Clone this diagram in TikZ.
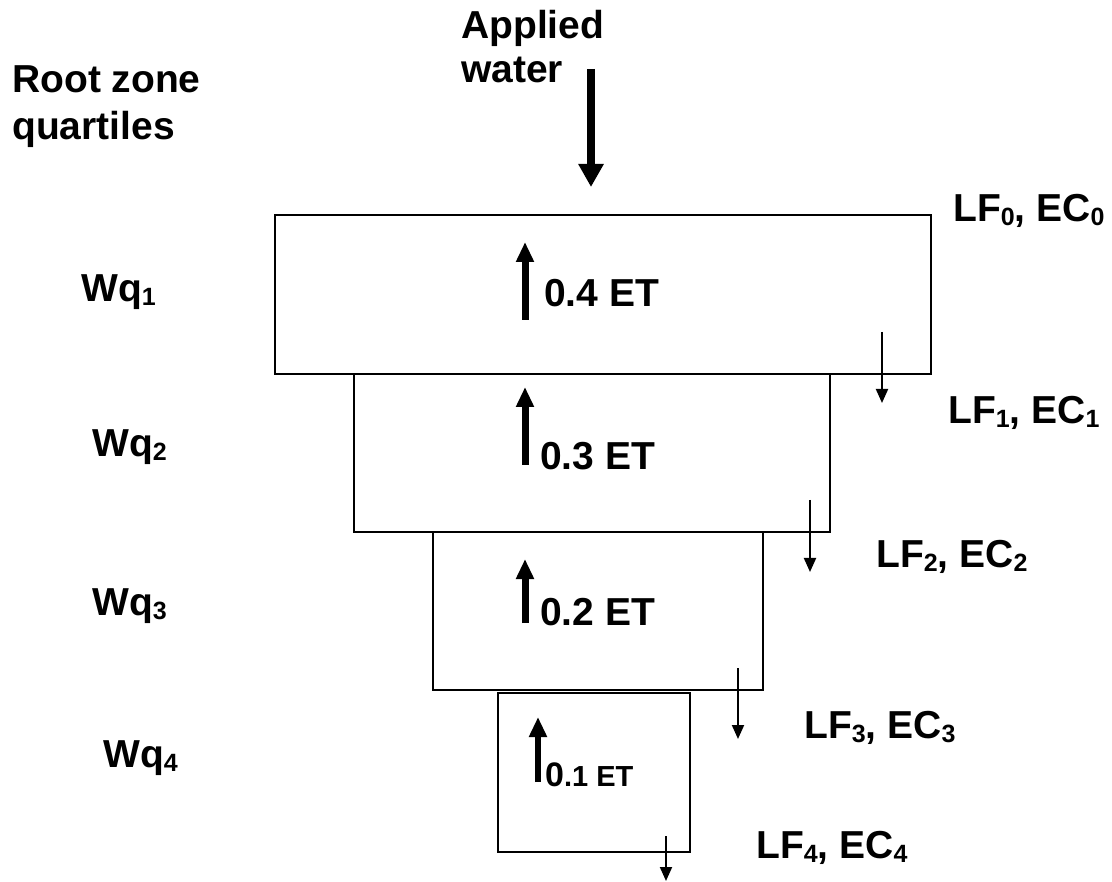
\documentclass[tikz,border=0pt]{standalone}
\usepackage{fontspec}
\setmainfont{Liberation Sans}
\usetikzlibrary{arrows.meta}
\newcommand\sbs[1]{\raisebox{-4pt}{\fontsize{25}{25}\selectfont #1}}
\begin{document}
\begin{tikzpicture}[x=1pt,y=-1pt,
  lbl/.style={anchor=base west, inner sep=0pt, font=\bfseries\fontsize{39}{45}\selectfont},
  layer/.style={draw, line width=2pt, inner sep=0pt, anchor=north west},
  bigarrow/.style={line width=8pt, -{Triangle[width=24pt,length=23pt]}},
  etarrow/.style={line width=7pt, -{Triangle[width=17pt,length=20pt]}},
  drip/.style={line width=2pt, -{Triangle[width=12pt,length=14pt]}},
]
\useasboundingbox (0,0) rectangle (1112,882);

% titles
\node[lbl] (appl1) at (461,39) {Applied};
\node[lbl] (appl2) at (461,83) {water};
\node[lbl] (root1) at (12,93) {Root zone};
\node[lbl] (root2) at (12,140) {quartiles};

% applied water arrow
\coordinate (aw1) at (591,69);
\coordinate (aw2) at (591,187);
\draw[bigarrow] (aw1) -- (aw2);

% layers
\node[layer, minimum width=656pt, minimum height=159pt] (q1) at (274,214) {};
\node[layer, minimum width=476pt, minimum height=158pt] (q2) at (353,373) {};
\node[layer, minimum width=330pt, minimum height=158pt] (q3) at (432,531) {};
\node[layer, minimum width=192pt, minimum height=159pt] (q4) at (497,692) {};

% quartile labels
\node[lbl] (wq1) at (81,302) {Wq\sbs{1}};
\node[lbl] (wq2) at (92,457) {Wq\sbs{2}};
\node[lbl] (wq3) at (92,615) {Wq\sbs{3}};
\node[lbl] (wq4) at (103,767) {Wq\sbs{4}};

% ET arrows and labels
\coordinate (e1a) at (525,320); \coordinate (e1b) at (525,242);
\coordinate (e2a) at (525,465); \coordinate (e2b) at (525,387);
\coordinate (e3a) at (525,623); \coordinate (e3b) at (525,559);
\coordinate (e4a) at (538,782); \coordinate (e4b) at (538,717);
\draw[etarrow] (e1a) -- (e1b);
\draw[etarrow] (e2a) -- (e2b);
\draw[etarrow] (e3a) -- (e3b);
\draw[etarrow, line width=6pt] (e4a) -- (e4b);
\node[lbl] (et1) at (544,307) {0.4 ET};
\node[lbl] (et2) at (540,470) {0.3 ET};
\node[lbl] (et3) at (540,625) {0.2 ET};
\node[lbl] (et4) at (545,786) {{\fontsize{34}{34}\selectfont 0}{\fontsize{29}{29}\selectfont .1 ET}};

% drainage arrows
\coordinate (d1a) at (882,332); \coordinate (d1b) at (882,403);
\coordinate (d2a) at (810,500); \coordinate (d2b) at (810,572);
\coordinate (d3a) at (738,668); \coordinate (d3b) at (738,739);
\coordinate (d4a) at (666,836); \coordinate (d4b) at (666,881);
\draw[drip] (d1a) -- (d1b);
\draw[drip] (d2a) -- (d2b);
\draw[drip] (d3a) -- (d3b);
\draw[drip] (d4a) -- (d4b);

% leaching labels
\node[lbl] (lf0) at (953,222) {LF\sbs{0}, EC\sbs{0}};
\node[lbl] (lf1) at (948,424) {LF\sbs{1}, EC\sbs{1}};
\node[lbl] (lf2) at (876,568) {LF\sbs{2}, EC\sbs{2}};
\node[lbl] (lf3) at (804,738) {LF\sbs{3}, EC\sbs{3}};
\node[lbl] (lf4) at (756,858) {LF\sbs{4}, EC\sbs{4}};
\end{tikzpicture}
\end{document}
